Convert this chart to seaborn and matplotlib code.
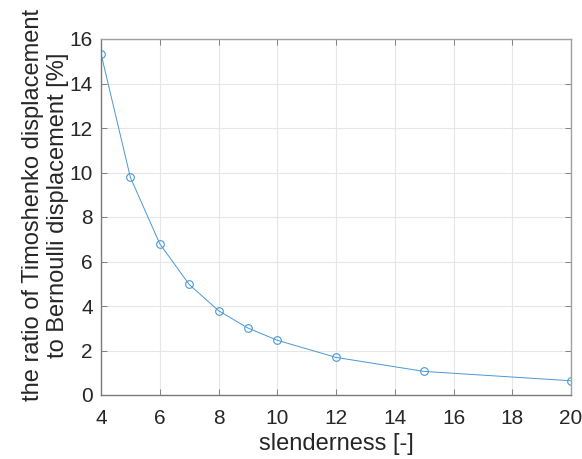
import matplotlib
matplotlib.use("Agg")
import matplotlib.pyplot as plt
import seaborn as sns
import pandas as pd

slenderness = [4, 5, 6, 7, 8, 9, 10, 12, 15, 20]
ratio = [15.34, 9.78, 6.80, 4.97, 3.79, 3.01, 2.46, 1.69, 1.06, 0.64]
x_ticks = [4, 6, 8, 10, 12, 14, 16, 18, 20]
y_ticks = [0, 2, 4, 6, 8, 10, 12, 14, 16]

sns.set_theme(style="white")
plt.rcParams['font.family'] = ['Liberation Sans', 'DejaVu Sans']

df = pd.DataFrame({"slenderness": slenderness, "ratio": ratio})

fig = plt.figure(figsize=(5.82, 4.59), dpi=100)
ax = fig.add_axes([101/582, 1 - 395/459, 470/582, 356/459])

line_color = "#4a98d4"
sns.lineplot(data=df, x="slenderness", y="ratio", ax=ax, color=line_color,
             linewidth=0.7, marker="o", markersize=5.5, markerfacecolor="none",
             markeredgecolor=line_color, markeredgewidth=0.8)

ax.set_xlim(4, 20)
ax.set_ylim(0, 16)
ax.set_xticks(x_ticks)
ax.set_yticks(y_ticks)
ax.grid(True, color="#e6e6e6", linewidth=0.8)
ax.set_axisbelow(True)
for name, s in ax.spines.items():
    s.set_visible(True)
    s.set_color("#7a7a7a" if name in ("left", "bottom") else "#a0a0a0")
    s.set_linewidth(1.0)
ax.tick_params(axis="both", direction="in", length=4, width=0.6, colors="#707070",
               labelsize=15, labelcolor="#262626", top=True, right=True,
               bottom=True, left=True, labeltop=False, labelright=False)
ax.tick_params(axis="x", pad=10)
ax.tick_params(axis="y", pad=6)
ax.set_xlabel("slenderness [-]", fontsize=17, color="#262626", labelpad=4)
ax.set_ylabel("the ratio of Timoshenko displacement\nto Bernoulli displacement [%]",
              fontsize=17, color="#262626", labelpad=4, linespacing=1.15)
ax.yaxis.set_label_coords(-0.068, 0.534)

fig.savefig("out.png", dpi=100)
